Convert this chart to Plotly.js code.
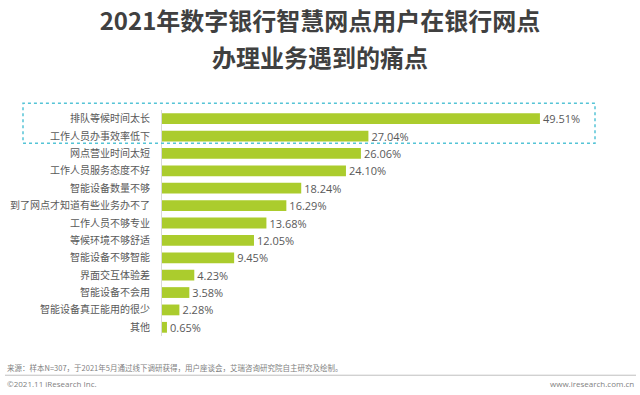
<!DOCTYPE html>
<html>
<head>
<meta charset="utf-8">
<script src="https://cdn.plot.ly/plotly-3.0.1.min.js"></script>
<style>html,body{margin:0;padding:0;background:#fff;}#chart{width:640px;height:395px;}</style>
</head>
<body>
<div id="chart"></div>
<script>
const categories = ["排队等候时间太长","工作人员办事效率低下","网点营业时间太短","工作人员服务态度不好","智能设备数量不够","到了网点才知道有些业务办不了","工作人员不够专业","等候环境不够舒适","智能设备不够智能","界面交互体验差","智能设备不会用","智能设备真正能用的很少","其他"];
const values = [49.51,27.04,26.06,24.10,18.24,16.29,13.68,12.05,9.45,4.23,3.58,2.28,0.65];
const valueLabels = values.map(v => v.toFixed(2) + "%");
const titleLine1 = "2021年数字银行智慧网点用户在银行网点";
const titleLine2 = "办理业务遇到的痛点";
const sourceText = "来源：样本N=307，于2021年5月通过线下调研获得，用户座谈会，艾瑞咨询研究院自主研究及绘制。";
const copyrightText = "©2021.11 iResearch Inc.";
const siteText = "www.iresearch.com.cn";

const FONT = "Open Sans, Noto Sans CJK SC, sans-serif";
const W = 640, H = 395;
const mL = 162, mR = 20, mT = 109.8, mB = 58.8;
const pw = W - mL - mR, ph = H - mT - mB;
const px = x => (x - mL) / pw;
const py = y => (H - mB - y) / ph;

const trace = {
  type: "bar",
  orientation: "h",
  x: values,
  y: categories,
  marker: {color: "#abcc2d"},
  width: 0.62,
  text: valueLabels,
  textposition: "outside",
  constraintext: "none",
  cliponaxis: false,
  textfont: {family: FONT, size: 11, color: "#595959"},
  hoverinfo: "none"
};

const layout = {
  width: W, height: H,
  margin: {l: mL, r: mR, t: mT, b: mB, pad: 0},
  paper_bgcolor: "#ffffff",
  plot_bgcolor: "#ffffff",
  showlegend: false,
  title: {
    text: "<b>" + titleLine1 + "</b>",
    font: {family: "Noto Sans CJK SC, sans-serif", size: 24, color: "#404040"},
    x: 0.5, xanchor: "center", xref: "container",
    y: 1 - 22 / H, yanchor: "middle", yref: "container"
  },
  xaxis: {
    range: [0, 60],
    showgrid: false, zeroline: false, showline: false,
    showticklabels: false, ticks: ""
  },
  yaxis: {
    type: "category",
    autorange: "reversed",
    showgrid: false, zeroline: false,
    showline: true, linecolor: "#d9d9d9", linewidth: 1,
    ticks: "outside", ticklen: 9, tickcolor: "rgba(0,0,0,0)",
    tickfont: {family: "Noto Sans CJK SC, sans-serif", size: 10, color: "#595959"}
  },
  shapes: [
    {type: "rect", xref: "paper", yref: "paper",
     x0: px(23), x1: px(595), y0: py(143), y1: py(103),
     line: {color: "#55c4d6", width: 1.5, dash: "dot"}, fillcolor: "rgba(0,0,0,0)", layer: "above"},
    {type: "line", xref: "paper", yref: "paper",
     x0: px(5), x1: px(636), y0: py(375.5), y1: py(375.5),
     line: {color: "#bfbfbf", width: 1}}
  ],
  annotations: [
    {text: "<b>" + titleLine2 + "</b>", xref: "paper", yref: "paper",
     x: px(320), y: py(56), xanchor: "center", yanchor: "middle", showarrow: false,
     font: {family: "Noto Sans CJK SC, sans-serif", size: 24, color: "#404040"}},
    {text: sourceText, xref: "paper", yref: "paper",
     x: px(5), y: py(368), xanchor: "left", yanchor: "middle", showarrow: false,
     font: {family: "Noto Sans CJK SC, sans-serif", size: 7.5, color: "#7f7f7f"}},
    {text: copyrightText, xref: "paper", yref: "paper",
     x: px(5), y: py(384), xanchor: "left", yanchor: "middle", showarrow: false,
     font: {family: FONT, size: 8, color: "#7f7f7f"}},
    {text: siteText, xref: "paper", yref: "paper",
     x: px(636), y: py(384), xanchor: "right", yanchor: "middle", showarrow: false,
     font: {family: FONT, size: 8, color: "#7f7f7f"}}
  ]
};

Plotly.newPlot("chart", [trace], layout, {displayModeBar: false, staticPlot: true});
</script>
</body>
</html>
